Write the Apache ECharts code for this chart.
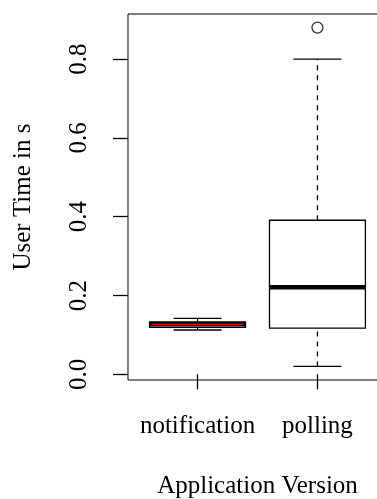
<!DOCTYPE html>
<html>
<head>
<meta charset="utf-8">
<script src="https://cdn.jsdelivr.net/npm/echarts@6/dist/echarts.min.js"></script>
<style>
  html, body { margin: 0; padding: 0; background: #fff; }
  #main { width: 377px; height: 499px; }
</style>
</head>
<body>
<div id="main"></div>
<script>
// categories and box values (min, Q1, median, Q3, max)
var categories = ['notification', 'polling'];
var positions = [1, 2];
var lowValues = [0.1125, 0.02];
var q1Values = [0.119, 0.117];
var medianValues = [0.127, 0.221];
var q3Values = [0.133, 0.391];
var highValues = [0.142, 0.80];
var outliers = [[2, 0.88]];
var yTicks = [0, 0.2, 0.4, 0.6, 0.8];
var medianColors = ['#dd0000', null];

var boxData = positions.map(function (p, i) {
  return [p, lowValues[i], q1Values[i], medianValues[i], q3Values[i], highValues[i]];
});

var FONT = '"Liberation Serif", "DejaVu Serif", serif';
var boxWex = 0.8;

function renderBox(params, api) {
  var x = api.value(0);
  var lo = api.coord([x, api.value(1)]);
  var q1 = api.coord([x, api.value(2)]);
  var md = api.coord([x, api.value(3)]);
  var q3 = api.coord([x, api.value(4)]);
  var hi = api.coord([x, api.value(5)]);
  var bw = api.size([boxWex, 0])[0];
  var half = bw / 2, cap = bw / 4;
  var cx = lo[0];
  var lineStyle = { stroke: '#000', lineWidth: 1.3 };
  var dashStyle = { stroke: '#000', lineWidth: 1.3, lineDash: [5, 5] };
  var children = [
    { type: 'line', shape: { x1: cx, y1: lo[1], x2: cx, y2: q1[1] }, style: dashStyle },
    { type: 'line', shape: { x1: cx, y1: q3[1], x2: cx, y2: hi[1] }, style: dashStyle },
    { type: 'line', shape: { x1: cx - cap, y1: lo[1], x2: cx + cap, y2: lo[1] }, style: lineStyle },
    { type: 'line', shape: { x1: cx - cap, y1: hi[1], x2: cx + cap, y2: hi[1] }, style: lineStyle },
    { type: 'rect', shape: { x: cx - half, y: q3[1], width: bw, height: q1[1] - q3[1] },
      style: { fill: '#fff', stroke: '#000', lineWidth: 1.3 } },
    { type: 'line', shape: { x1: cx - half, y1: md[1], x2: cx + half, y2: md[1] },
      style: { stroke: '#000', lineWidth: 4.5 } }
  ];
  var mc = medianColors[params.dataIndex];
  if (mc) {
    children.push({ type: 'line', shape: { x1: cx - half + 2, y1: md[1], x2: cx + half - 2, y2: md[1] },
      style: { stroke: mc, lineWidth: 1.6 } });
  }
  return { type: 'group', children: children };
}

var chart = echarts.init(document.getElementById('main'));
chart.setOption({
  animation: false,
  backgroundColor: '#fff',
  grid: {
    left: 128, top: 14, width: 259, height: 366,
    containLabel: false, outerBoundsMode: 'none',
    show: true, borderColor: '#000', borderWidth: 1, backgroundColor: 'transparent'
  },
  xAxis: {
    type: 'value', min: 0.42, max: 2.58,
    name: 'Application Version', nameLocation: 'middle', nameGap: 94,
    nameTextStyle: { fontFamily: FONT, fontSize: 25, color: '#000' },
    axisLine: { show: false },
    splitLine: { show: false },
    axisTick: { show: true, length: 15, customValues: positions, lineStyle: { color: '#000', width: 1.3 } },
    axisLabel: {
      customValues: positions, margin: 34, color: '#000', fontFamily: FONT, fontSize: 25,
      formatter: function (v) { return categories[Math.round(v) - 1]; }
    }
  },
  yAxis: {
    type: 'value', min: -0.0144, max: 0.9144,
    name: 'User Time in s', nameLocation: 'middle', nameGap: 92, nameRotate: 90,
    nameTextStyle: { fontFamily: FONT, fontSize: 25, color: '#000' },
    axisLine: { show: false },
    splitLine: { show: false },
    axisTick: { show: true, length: 15, customValues: yTicks, lineStyle: { color: '#000', width: 1.3 } },
    axisLabel: {
      customValues: yTicks, rotate: 90, margin: 36, color: '#000', fontFamily: FONT, fontSize: 25,
      formatter: function (v) { return v.toFixed(1); }
    }
  },
  series: [
    {
      type: 'custom',
      renderItem: renderBox,
      data: boxData,
      encode: { x: 0, y: [1, 2, 3, 4, 5] },
      clip: false
    },
    {
      type: 'scatter',
      data: outliers,
      symbol: 'circle',
      symbolSize: 11,
      itemStyle: { color: '#fff', borderColor: '#000', borderWidth: 1.3 }
    }
  ]
});
</script>
</body>
</html>
